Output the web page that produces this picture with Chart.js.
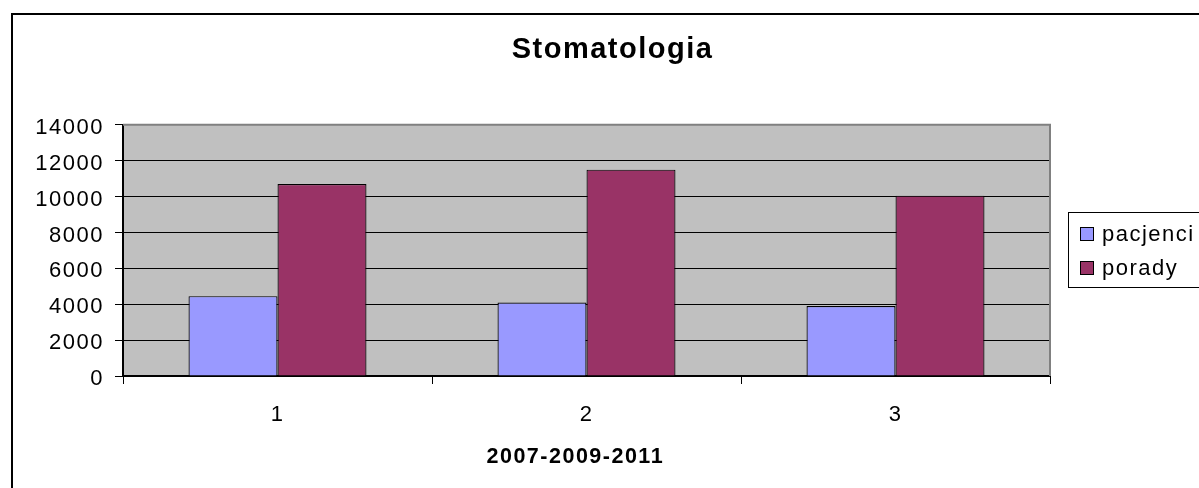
<!DOCTYPE html>
<html>
<head>
<meta charset="utf-8">
<script src="https://cdn.jsdelivr.net/npm/chart.js@4/dist/chart.umd.min.js"></script>
<style>
  html, body { margin: 0; padding: 0; background: #fff; overflow: hidden; }
  #wrap { position: absolute; left: 0; top: 0; width: 1225px; height: 488px; }
</style>
</head>
<body>
<div id="wrap"><canvas id="myChart" width="1225" height="488"></canvas></div>
<script>
const categories = ['1', '2', '3'];
const pacjenci = [4450, 4100, 3900];
const porady = [10700, 11500, 10050];
const yTicks = [0, 2000, 4000, 6000, 8000, 10000, 12000, 14000];

const FONT = "'Liberation Sans', Arial, sans-serif";

// gray plot background, outer frame, letter spacing for Excel-like text
const backdrop = {
    id: 'backdrop',
    beforeDraw(chart) {
        const ctx = chart.ctx;
        const a = chart.chartArea;
        ctx.letterSpacing = '1.5px';
        ctx.save();
        ctx.fillStyle = '#000';
        ctx.fillRect(11, 13, 2, 600);
        ctx.fillRect(11, 13, 1400, 2);
        ctx.fillStyle = '#c0c0c0';
        ctx.fillRect(a.left, a.top, a.right - a.left, a.bottom - a.top);
        ctx.restore();
    },
    beforeDatasetsDraw(chart) {
        const ctx = chart.ctx;
        const a = chart.chartArea;
        ctx.save();
        ctx.strokeStyle = '#808080';
        ctx.lineWidth = 2;
        ctx.beginPath();
        ctx.moveTo(a.left, a.top);
        ctx.lineTo(a.right, a.top);
        ctx.lineTo(a.right, a.bottom);
        ctx.stroke();
        ctx.restore();
    }
};

// boxed legend in the space kept free right of the plot
const boxLegend = {
    id: 'boxLegend',
    afterDraw(chart) {
        const ctx = chart.ctx;
        const a = chart.chartArea;
        const x = a.right + 18;
        const y = 212;
        ctx.save();
        ctx.strokeStyle = '#000';
        ctx.lineWidth = 1;
        ctx.strokeRect(x + 0.5, y + 0.5, 200, 75);
        ctx.font = '22px ' + FONT;
        ctx.textBaseline = 'middle';
        ctx.textAlign = 'left';
        chart.data.datasets.forEach((ds, i) => {
            const sy = y + 15 + i * 34;
            ctx.fillStyle = ds.backgroundColor;
            ctx.fillRect(x + 12, sy, 14, 14);
            ctx.strokeRect(x + 12.5, sy + 0.5, 13, 13);
            ctx.fillStyle = '#000';
            ctx.fillText(ds.label, x + 34, sy + 8);
        });
        ctx.restore();
    }
};

new Chart(document.getElementById('myChart'), {
    type: 'bar',
    data: {
        labels: categories,
        datasets: [
            {
                label: 'pacjenci',
                data: pacjenci,
                backgroundColor: '#9999ff',
                borderColor: '#000',
                borderWidth: 1.2
            },
            {
                label: 'porady',
                data: porady,
                backgroundColor: '#993366',
                borderColor: '#000',
                borderWidth: 1.2
            }
        ]
    },
    options: {
        responsive: false,
        animation: false,
        datasets: {
            bar: { categoryPercentage: 0.576, barPercentage: 1.0 }
        },
        plugins: {
            legend: { display: false },
            tooltip: { enabled: false },
            title: {
                display: true,
                text: 'Stomatologia',
                color: '#000',
                font: { family: FONT, size: 29, weight: 'bold' },
                padding: { top: 33, bottom: 57 }
            }
        },
        scales: {
            x: {
                afterFit: (scale) => { scale.height = 112; },
                border: { color: '#000', width: 2 },
                grid: {
                    offset: true,
                    drawOnChartArea: false,
                    drawTicks: true,
                    tickLength: 8,
                    color: '#000',
                    lineWidth: 1
                },
                ticks: {
                    color: '#000',
                    font: { family: FONT, size: 22 },
                    padding: 18
                },
                title: {
                    display: true,
                    text: '2007-2009-2011   ',
                    color: '#000',
                    font: { family: FONT, size: 21.5, weight: 'bold' },
                    padding: { top: 0, bottom: 18 }
                }
            },
            y: {
                min: 0,
                max: 14000,
                afterFit: (scale) => { scale.width = 123; },
                afterBuildTicks: (scale) => {
                    scale.ticks = yTicks.map(v => ({ value: v }));
                },
                border: { color: '#000', width: 2 },
                grid: {
                    drawTicks: true,
                    tickLength: 8,
                    color: (c) => (c.tick && c.tick.value === 14000 ? '#808080' : '#000'),
                    tickColor: '#000',
                    lineWidth: 1
                },
                ticks: {
                    color: '#000',
                    font: { family: FONT, size: 22 },
                    padding: 11,
                    labelOffset: 3,
                    callback: (v) => String(v)
                }
            },
            // empty right-hand axis that keeps room for the legend box
            side: {
                type: 'linear',
                position: 'right',
                afterFit: (scale) => { scale.width = 175; },
                grid: { display: false },
                border: { display: false },
                ticks: { display: false }
            }
        }
    },
    plugins: [backdrop, boxLegend]
});
</script>
</body>
</html>
